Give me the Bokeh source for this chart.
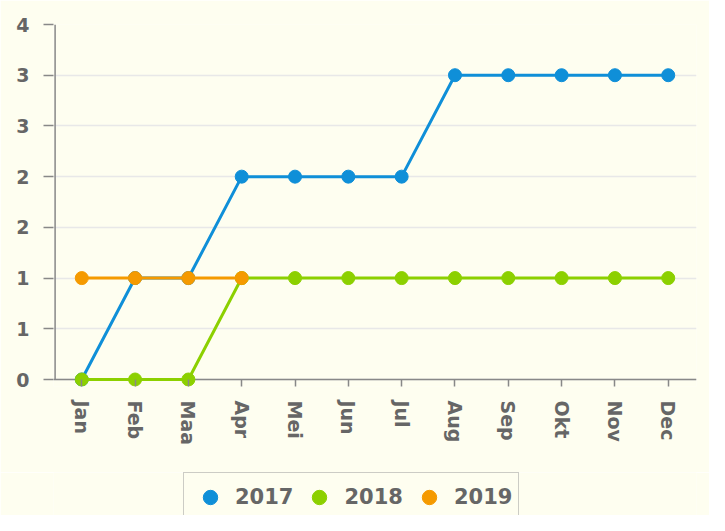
from bokeh.plotting import figure
from bokeh.layouts import column
from bokeh.models import (ColumnDataSource, FixedTicker, CustomJSTickFormatter,
                          Legend, LegendItem, Range1d, FactorRange, Span)
from bokeh.embed import file_html
from bokeh.resources import INLINE

months = ["Jan", "Feb", "Maa", "Apr", "Mei", "Jun", "Jul", "Aug", "Sep", "Okt", "Nov", "Dec"]
s2017 = [0, 1, 1, 2, 2, 2, 2, 3, 3, 3, 3, 3]
s2018 = [0, 0, 0, 1, 1, 1, 1, 1, 1, 1, 1, 1]
s2019 = [1, 1, 1, 1]
y_ticks = [0, 0.5, 1, 1.5, 2, 2.5, 3, 3.5]

series = [
    ("2017", months, s2017, "#0f8fd8"),
    ("2018", months, s2018, "#8cd000"),
    ("2019", months[:len(s2019)], s2019, "#f59a00"),
]

BG = "#fefef0"
AXIS = "#888888"
LABEL = "#666666"
FONT = "DejaVu Sans"
W = 709
H_MAIN = 472
H_LEG = 43
BORDER_L, BORDER_R = 53, 13

# y range starts a little below 0 so that markers on 0 are not clipped;
# the visible x-axis line is drawn at y = 0.
Y_LOW = -0.069
p = figure(width=W, height=H_MAIN,
           x_range=FactorRange(*months, range_padding=0.03, range_padding_units="absolute"),
           y_range=Range1d(Y_LOW, y_ticks[-1]), output_backend="svg", toolbar_location=None,
           min_border_left=BORDER_L, min_border_right=BORDER_R, min_border_top=24, min_border_bottom=86,
           background_fill_color=BG, border_fill_color=BG)
p.outline_line_color = None

p.xgrid.grid_line_color = None
p.ygrid.grid_line_color = "#e8e8e8"
p.ygrid.grid_line_width = 1.5

p.yaxis.ticker = FixedTicker(ticks=y_ticks)
p.yaxis.formatter = CustomJSTickFormatter(code="return Math.round(tick).toString()")
for ax in (p.xaxis, p.yaxis):
    ax.axis_line_color = None
    ax.major_tick_line_color = AXIS
    ax.major_tick_line_width = 1.5
    ax.minor_tick_line_color = None
    ax.major_label_text_color = LABEL
    ax.major_label_text_font = FONT
    ax.major_label_text_font_style = "bold"
    ax.major_label_text_font_size = "19px"
p.yaxis.major_tick_in = 0
p.yaxis.major_tick_out = 10
p.yaxis.major_label_standoff = 14
p.xaxis.major_tick_in = 7
p.xaxis.major_tick_out = 0
p.xaxis.major_label_standoff = 14
p.xaxis.major_label_orientation = "vertical"

# axis lines
p.add_layout(Span(location=0, dimension="width", line_color=AXIS, line_width=1.5, level="underlay"))
p.segment(x0=[0], y0=[0], x1=[0], y1=[y_ticks[-1]], line_color=AXIS, line_width=1.5)

for name, xs, ys, color in series:
    src = ColumnDataSource(dict(x=xs, y=ys))
    p.line("x", "y", source=src, line_color=color, line_width=3)
    p.scatter("x", "y", source=src, size=13, fill_color=color, line_color=color)

# legend strip below the chart (its frame is aligned with the chart's frame)
lg = figure(width=W, height=H_LEG, x_range=Range1d(0, 1), y_range=Range1d(0, 1),
            output_backend="svg", toolbar_location=None,
            min_border_left=BORDER_L, min_border_right=BORDER_R, min_border_top=0, min_border_bottom=0,
            background_fill_color=BG, border_fill_color=BG)
lg.axis.visible = False
lg.grid.visible = False
lg.outline_line_color = None
items = []
for name, xs, ys, color in series:
    r = lg.scatter(x=[float("nan")], y=[float("nan")], size=13, fill_color=color, line_color=color)
    items.append(LegendItem(label=name, renderers=[r]))

legend = Legend(items=items, orientation="horizontal", location=(183 - BORDER_L, -7),
                glyph_width=40, glyph_height=36, label_standoff=5, spacing=6,
                padding=6, margin=0,
                border_line_color="#999999", border_line_width=1.5,
                background_fill_color=BG, background_fill_alpha=1,
                label_text_font=FONT, label_text_font_style="bold",
                label_text_font_size="21px", label_text_color=LABEL)
lg.add_layout(legend, "center")

layout = column(p, lg, spacing=0)
open("out.html", "w").write(file_html(layout, INLINE))
